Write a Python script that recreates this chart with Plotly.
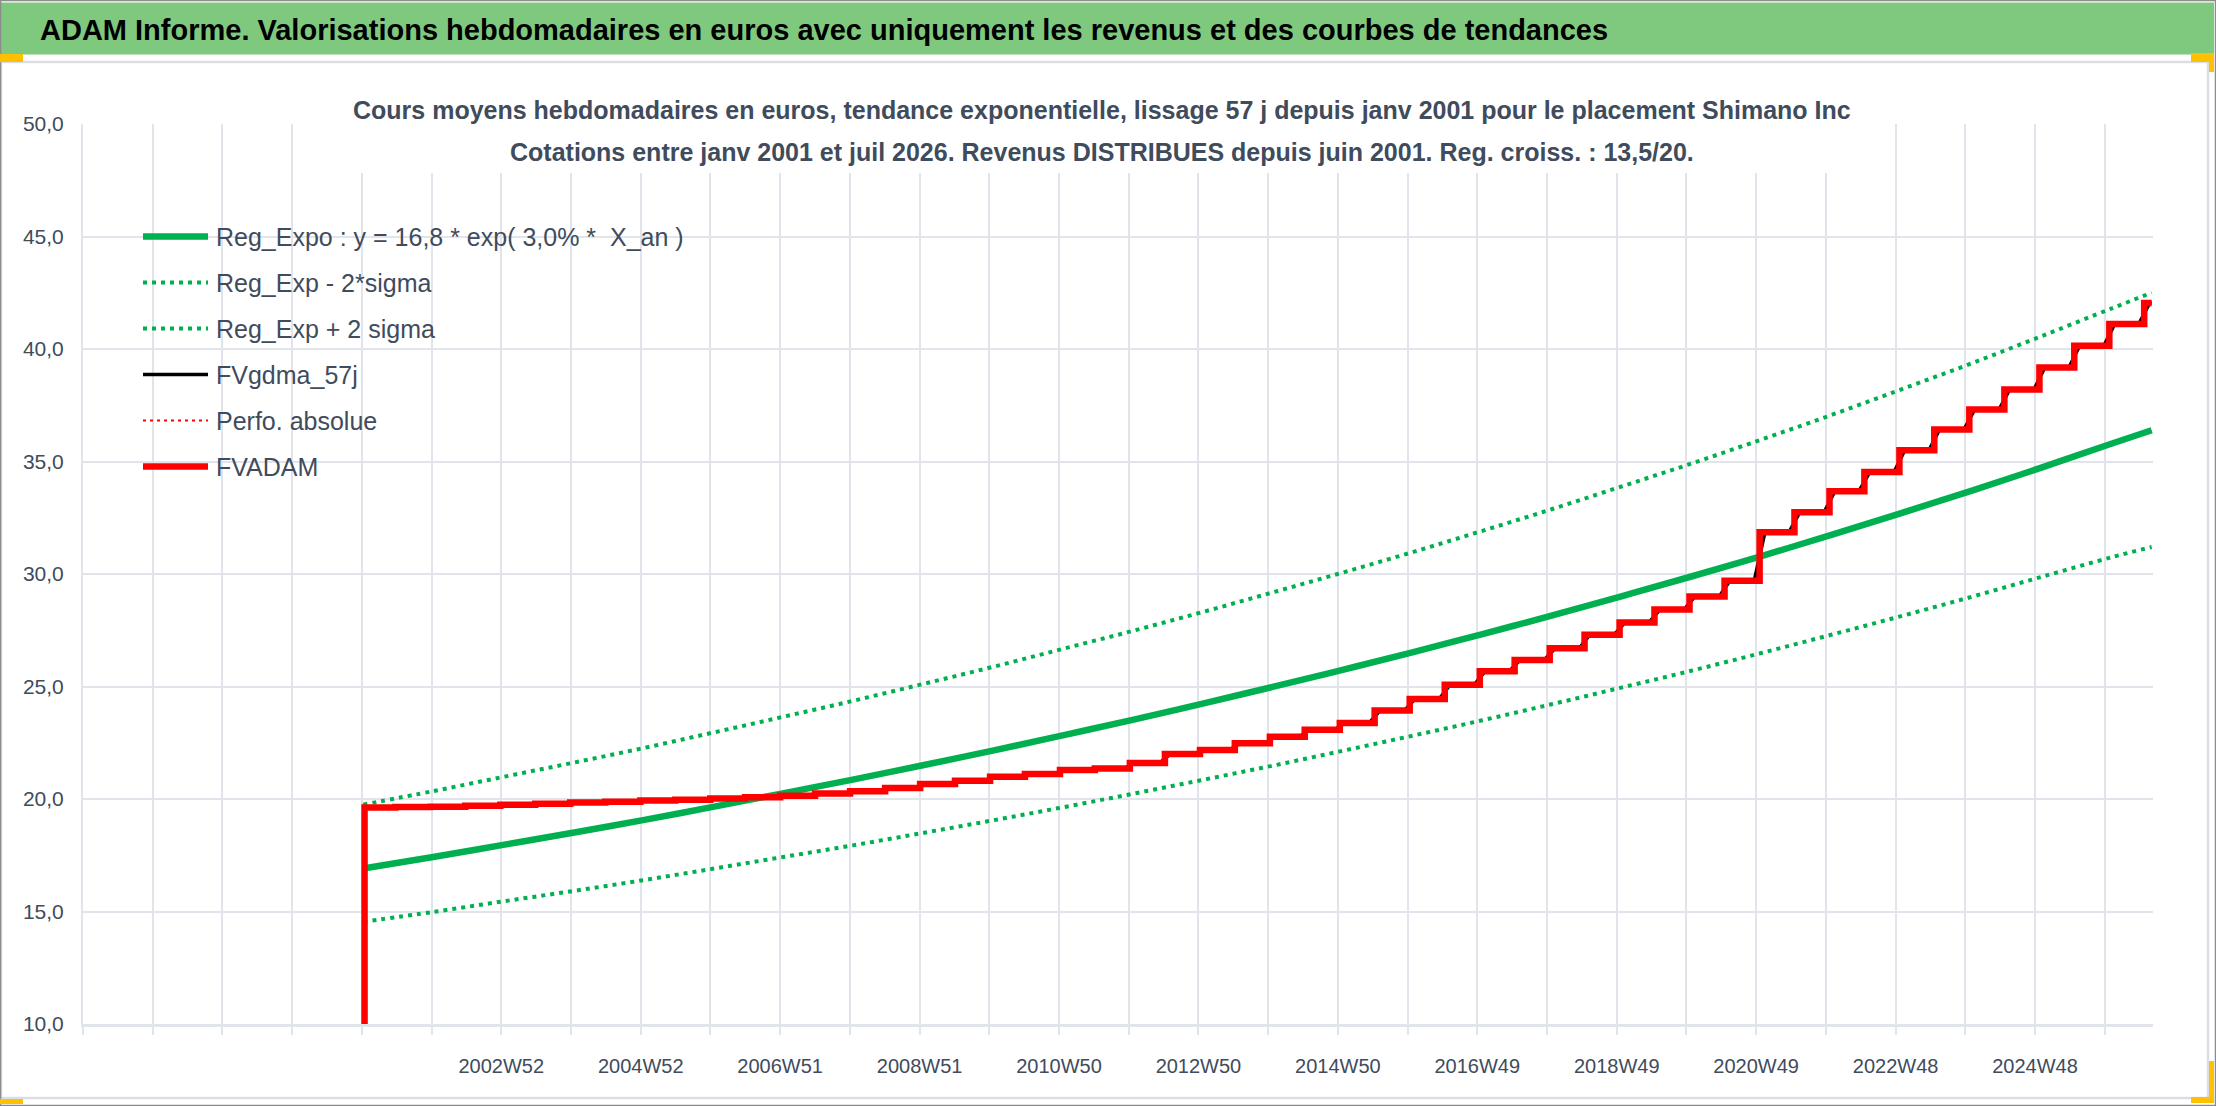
import pandas as pd
import plotly.graph_objects as go

# ---------------- data ----------------
# trend curves, read once a year (Jan) plus the last quote (end of July 2026)
reg_dates = ["2001-01-01", "2002-01-01", "2003-01-01", "2004-01-01", "2005-01-01",
             "2006-01-01", "2007-01-01", "2008-01-01", "2009-01-01", "2010-01-01",
             "2011-01-01", "2012-01-01", "2013-01-01", "2014-01-01", "2015-01-01",
             "2016-01-01", "2017-01-01", "2018-01-01", "2019-01-01", "2020-01-01",
             "2021-01-01", "2022-01-01", "2023-01-01", "2024-01-01", "2025-01-01",
             "2026-01-01", "2026-07-27"]
reg_expo = [16.91, 17.42, 17.96, 18.5, 19.06, 19.65, 20.25, 20.86, 21.5, 22.15,
            22.83, 23.52, 24.24, 24.98, 25.74, 26.52, 27.33, 28.16, 29.02, 29.9,
            30.81, 31.75, 32.72, 33.71, 34.74, 35.8, 36.39]
reg_minus = [14.54, 14.98, 15.45, 15.91, 16.39, 16.9, 17.42, 17.94, 18.49, 19.05,
             19.63, 20.23, 20.85, 21.48, 22.14, 22.81, 23.5, 24.22, 24.96, 25.71,
             26.5, 27.31, 28.14, 28.99, 29.88, 30.75, 31.2]
reg_plus = [19.75, 20.35, 20.98, 21.61, 22.26, 22.95, 23.65, 24.36, 25.11, 25.87,
            26.67, 27.47, 28.31, 29.18, 30.06, 30.97, 31.92, 32.89, 33.9, 34.92,
            35.99, 37.08, 38.22, 39.37, 40.58, 41.81, 42.5]

# FVADAM : value after each half-yearly income payment (June / December)
fvadam_dates = ["2001-01-01", "2001-01-08",
                "2001-06-18", "2001-12-18", "2002-06-18", "2002-12-18", "2003-06-18",
                "2003-12-18", "2004-06-18", "2004-12-18", "2005-06-18", "2005-12-18",
                "2006-06-18", "2006-12-18", "2007-06-18", "2007-12-18", "2008-06-18",
                "2008-12-18", "2009-06-18", "2009-12-18", "2010-06-18", "2010-12-18",
                "2011-06-18", "2011-12-18", "2012-06-18", "2012-12-18", "2013-06-18",
                "2013-12-18", "2014-06-18", "2014-12-18", "2015-06-18", "2015-12-18",
                "2016-06-18", "2016-12-18", "2017-06-18", "2017-12-18", "2018-06-18",
                "2018-12-18", "2019-06-18", "2019-12-18", "2020-06-18", "2020-12-18",
                "2021-06-18", "2021-12-18", "2022-06-18", "2022-12-18", "2023-06-18",
                "2023-12-18", "2024-06-18", "2024-12-18", "2025-06-18", "2025-12-18",
                "2026-06-18", "2026-07-27"]
fvadam_values = [10.0, 19.62,
                 19.64, 19.66, 19.70, 19.75, 19.79, 19.84, 19.88, 19.93, 19.97, 20.02,
                 20.08, 20.15, 20.25, 20.34, 20.49, 20.67, 20.81, 20.99, 21.11, 21.29,
                 21.36, 21.6, 22.0, 22.18, 22.48, 22.77, 23.08, 23.38, 23.93, 24.45,
                 25.08, 25.68, 26.18, 26.7, 27.3, 27.85, 28.42, 29.0, 29.7, 31.86,
                 32.75, 33.68, 34.53, 35.5, 36.42, 37.31, 38.2, 39.18, 40.15, 41.11,
                 42.04, 42.04]

# x axis : weekly categories, a gridline every 52 weeks, a label every 104
axis_start = pd.Timestamp("1996-12-30")
axis_weeks = 1544
tick_labels = ["", "", "", "", "", "", "2002W52", "", "2004W52", "", "2006W51", "",
               "2008W51", "", "2010W50", "", "2012W50", "", "2014W50", "", "2016W49", "",
               "2018W49", "", "2020W49", "", "2022W48", "", "2024W48", ""]

# FVgdma_57j : 57 day smoothing of FVADAM -> +/- 4 weeks ramp around each step
half_win = pd.Timedelta(weeks=4)
gdma_x, gdma_y = [fvadam_dates[1]], [fvadam_values[1]]
for i in range(2, len(fvadam_dates) - 1):
    d = pd.Timestamp(fvadam_dates[i])
    gdma_x += [d - half_win, d + half_win]
    gdma_y += [fvadam_values[i - 1], fvadam_values[i]]
gdma_x.append(fvadam_dates[-1])
gdma_y.append(fvadam_values[-1])

GREEN = "#00B050"
RED = "#FF0000"
TXT = "#404B5C"
GRID = "#E1E4EA"
FONT = "Liberation Sans, Arial, sans-serif"

fig = go.Figure()
fig.add_trace(go.Scatter(x=reg_dates, y=reg_expo, mode="lines", name="Reg_Expo",
                         line=dict(color=GREEN, width=6.5, shape="spline")))
fig.add_trace(go.Scatter(x=reg_dates, y=reg_minus, mode="lines", name="Reg_Exp - 2*sigma",
                         line=dict(color=GREEN, width=4, dash="4px,5px", shape="spline")))
fig.add_trace(go.Scatter(x=reg_dates, y=reg_plus, mode="lines", name="Reg_Exp + 2 sigma",
                         line=dict(color=GREEN, width=4, dash="4px,5px", shape="spline")))
fig.add_trace(go.Scatter(x=gdma_x, y=gdma_y, mode="lines", name="FVgdma_57j",
                         line=dict(color="black", width=3.5)))
fig.add_trace(go.Scatter(x=fvadam_dates, y=fvadam_values, mode="lines", name="Perfo. absolue",
                         line=dict(color=RED, width=2, dash="3px,4px", shape="hv")))
fig.add_trace(go.Scatter(x=fvadam_dates, y=fvadam_values, mode="lines", name="FVADAM",
                         line=dict(color=RED, width=6.5, shape="hv")))

# pixel -> paper helpers (plot area in the 2216x1106 picture)
PL, PR, PT, PB = 83, 2153, 124, 1024
def fx(px):
    return (px - PL) / (PR - PL)
def fy(py):
    return (PB - py) / (PB - PT)

shapes = []
annotations = []

# green banner with the report title
shapes.append(dict(type="rect", xref="paper", yref="paper", x0=fx(1), x1=fx(2214),
                   y0=fy(54.5), y1=fy(2.5), fillcolor="#7FC97F", line_width=0, layer="below"))
annotations.append(dict(xref="paper", yref="paper", x=fx(38), y=fy(30), xanchor="left",
                        yanchor="middle", showarrow=False,
                        text="<b>ADAM Informe. Valorisations hebdomadaires en euros avec uniquement "
                             "les revenus et des courbes de tendances</b>",
                        font=dict(family=FONT, size=29, color="black")))
# chart frame + window border
shapes.append(dict(type="rect", xref="paper", yref="paper", x0=fx(1), x1=fx(2208),
                   y0=fy(1098), y1=fy(62), line=dict(color="#DADDE3", width=2.5)))
shapes.append(dict(type="rect", xref="paper", yref="paper", x0=fx(0.5), x1=fx(2215.5),
                   y0=fy(1105.5), y1=fy(0.5), line=dict(color="#8C8C8C", width=1.5)))
# selection handles
for x0, x1, y0, y1 in [(0, 23, 54, 62), (2191, 2214, 53, 62), (2209, 2214, 53, 72),
                       (0, 23, 1099, 1104), (2191, 2214, 1097, 1103), (2209, 2214, 1061, 1103)]:
    shapes.append(dict(type="rect", xref="paper", yref="paper", x0=fx(x0), x1=fx(x1),
                       y0=fy(y1), y1=fy(y0), fillcolor="#FFC000", line_width=0))

# chart title in a white box over the top gridline
shapes.append(dict(type="rect", xref="paper", yref="paper", x0=fx(350), x1=fx(1855),
                   y0=fy(173), y1=fy(88), fillcolor="white", line_width=0, layer="above"))
for txt, yy in [("Cours moyens hebdomadaires en euros, tendance exponentielle, lissage 57 j depuis "
                 "janv 2001 pour le placement Shimano Inc", 110),
                ("Cotations entre janv 2001 et juil 2026. Revenus DISTRIBUES depuis juin 2001. "
                 "Reg. croiss. : 13,5/20.", 152)]:
    annotations.append(dict(xref="paper", yref="paper", x=fx(1102), y=fy(yy), xanchor="center",
                            yanchor="middle", showarrow=False, text="<b>" + txt + "</b>",
                            font=dict(family=FONT, size=25, color=TXT)))

# legend drawn by hand (long sample lines like the original)
legend_items = [
    ("Reg_Expo : y = 16,8 * exp( 3,0% *  X_an )", dict(color=GREEN, width=6.5)),
    ("Reg_Exp - 2*sigma", dict(color=GREEN, width=4, dash="4px,5px")),
    ("Reg_Exp + 2 sigma", dict(color=GREEN, width=4, dash="4px,5px")),
    ("FVgdma_57j", dict(color="black", width=3.5)),
    ("Perfo. absolue", dict(color=RED, width=2, dash="3px,4px")),
    ("FVADAM", dict(color=RED, width=6.5)),
]
for i, (label, ln) in enumerate(legend_items):
    yy = 236.5 + i * 46
    shapes.append(dict(type="line", xref="paper", yref="paper", x0=fx(143), x1=fx(208),
                       y0=fy(yy), y1=fy(yy), line=ln, layer="above"))
    annotations.append(dict(xref="paper", yref="paper", x=fx(214), y=fy(yy), xanchor="left",
                            yanchor="middle", showarrow=False, text=label,
                            font=dict(family=FONT, size=25, color=TXT)))

tick_vals = [axis_start + pd.Timedelta(weeks=52 * i) for i in range(len(tick_labels))]

fig.update_layout(
    width=2216, height=1106,
    margin=dict(l=PL, r=2216 - PR, t=PT, b=1106 - PB),
    paper_bgcolor="white", plot_bgcolor="white",
    separators=", ",
    font=dict(family=FONT, color=TXT),
    shapes=shapes, annotations=annotations,
    showlegend=False,
    xaxis=dict(range=[axis_start, axis_start + pd.Timedelta(weeks=axis_weeks)],
               tickmode="array", tickvals=tick_vals, ticktext=tick_labels,
               showgrid=True, gridcolor=GRID, gridwidth=2,
               ticks="outside", ticklen=8, tickwidth=2, tickcolor=GRID,
               showline=True, linecolor=GRID, linewidth=3,
               tickfont=dict(size=20, color=TXT), ticklabelstandoff=14, zeroline=False),
    yaxis=dict(range=[10, 50], dtick=5, tick0=10, tickformat=".1f",
               showgrid=True, gridcolor=GRID, gridwidth=2,
               showline=True, linecolor=GRID, linewidth=2, zeroline=False,
               ticks="", ticklabelstandoff=13, tickfont=dict(size=21, color=TXT)),
)

fig.write_html("out.html", config={"displayModeBar": False},
               post_script="document.body.style.margin='0';"
                           "document.body.style.overflow='hidden';")
